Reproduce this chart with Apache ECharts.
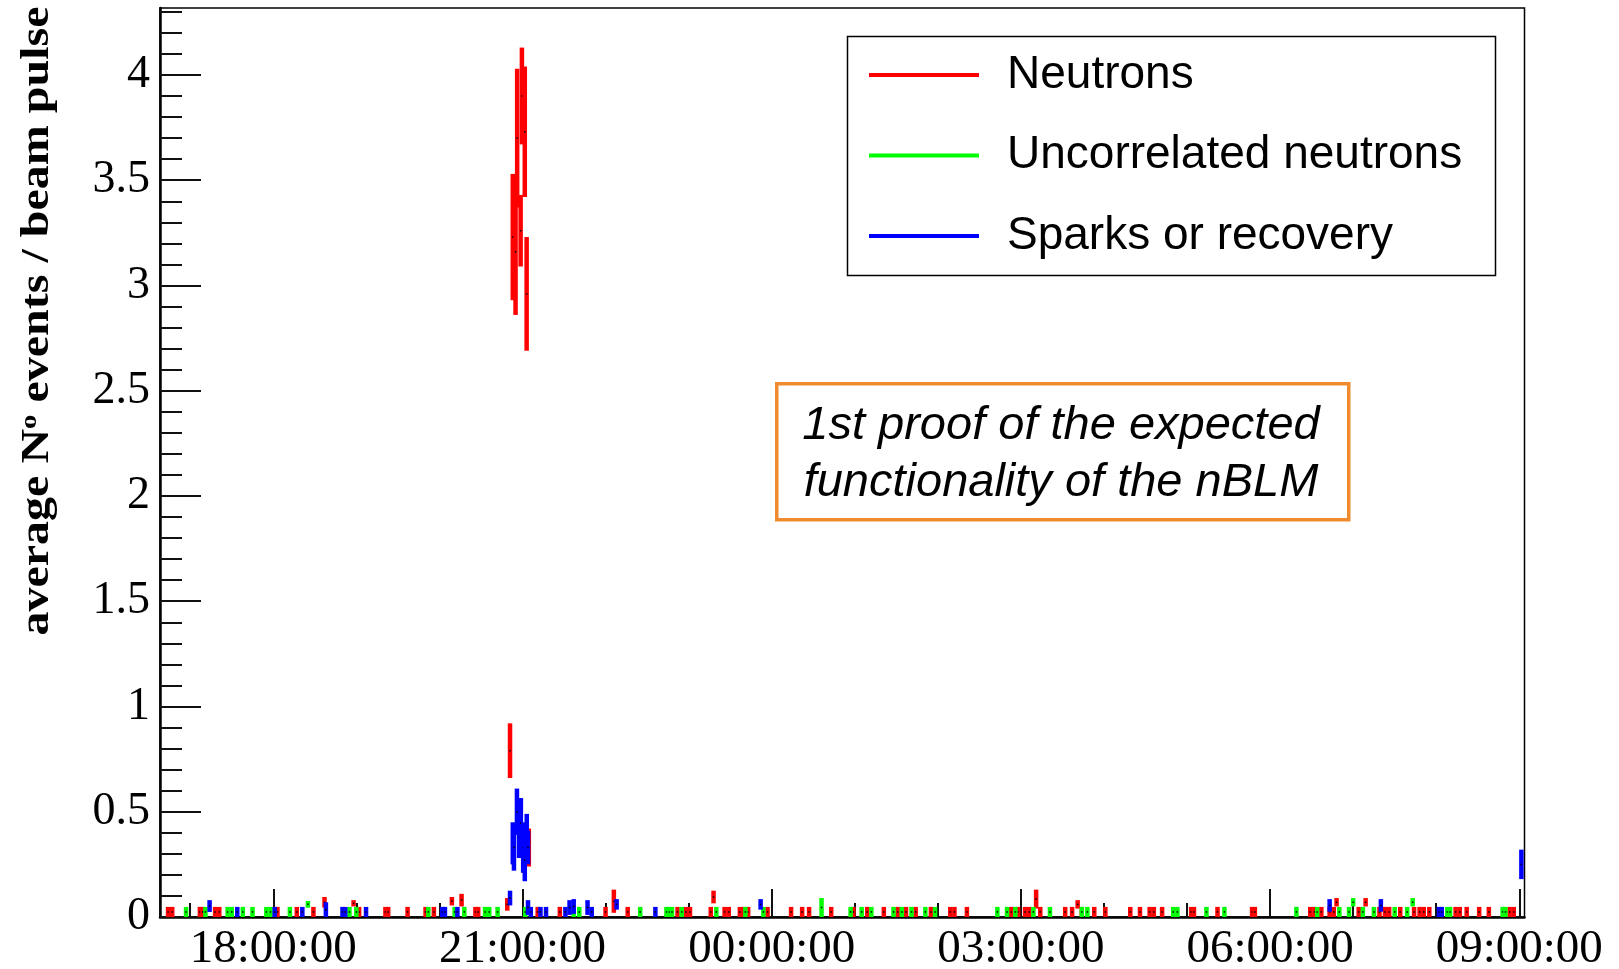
<!DOCTYPE html>
<html><head><meta charset="utf-8">
<script src="https://cdn.jsdelivr.net/npm/echarts@6/dist/echarts.min.js"></script>
<style>html,body{margin:0;padding:0;background:#fff}#c{width:1619px;height:969px}</style>
</head><body><div id="c"></div>
<script>
// ---------------- data ----------------
const X_START = '16:38:11';
const X_END = '09:03:45';
const Y_MAX = 4.318;
const xTickClocks = ['18:00:00', '21:00:00', '00:00:00', '03:00:00', '06:00:00', '09:00:00'];
const yTickValues = [0, 0.5, 1, 1.5, 2, 2.5, 3, 3.5, 4];
const seriesNames = ['Neutrons', 'Uncorrelated neutrons', 'Sparks or recovery'];
const seriesColors = ['#ff0000', '#00ff00', '#0000ff'];

// typical low-level point: value and error
const BASE_V = 0.024, BASE_E = 0.024;

const neutronsBaseline = ['16:44','16:47','17:07','17:09','17:18','17:21','18:03','18:17','18:29','19:02','19:21','19:23','19:37','19:50','19:56','20:26','20:28','21:11','21:27','22:00','22:16','22:52','22:58','23:01','23:16','23:26','23:29','23:37','23:40','23:43','23:57','00:14','00:22','00:27','00:43','00:59','01:09','01:21','01:31','01:37','01:44','01:55','02:09','02:12','02:21','02:53','02:58','03:03','03:06','03:14','03:32','03:37','03:44','03:53','04:01','04:19','04:26','04:33','04:36','04:42','05:03','05:05','05:22','05:47','05:49','06:29','06:32','06:37','06:43','06:46','07:04','07:19','07:23','07:26','07:34','07:44','07:48','07:51','07:55','08:14','08:17','08:22','08:31','08:38','08:53','08:56'];
const neutronsRaised = [
  ['18:37', 0.07, 0.025], ['18:58', 0.065, 0.015], ['20:09', 0.075, 0.02], ['20:16', 0.08, 0.03],
  ['20:49', 0.06, 0.03], ['20:51', 0.79, 0.13],
  ['20:53:00', 3.23, 0.30], ['20:55:00', 3.16, 0.30], ['20:56:10', 3.70, 0.33], ['20:58:40', 3.26, 0.17],
  ['20:59:35', 3.90, 0.23], ['21:01:40', 3.73, 0.31], ['21:03:00', 2.96, 0.27], ['21:04:35', 0.33, 0.09],
  ['22:06', 0.075, 0.055], ['23:18', 0.095, 0.03], ['03:11', 0.085, 0.045], ['03:41', 0.06, 0.02],
  ['06:48', 0.07, 0.02], ['07:09', 0.07, 0.02]
];

const uncorrBaseline = ['16:57','17:11','17:27','17:30','17:38','17:45','17:55','17:58','18:12','18:55','19:00','19:52','20:11','20:18','20:33','20:36','20:42','21:02','21:37','21:41','22:25','22:44','22:46','22:48','22:55','23:20','23:41','23:54','00:57','01:05','01:12','01:28','01:34','01:41','01:51','01:58','02:43','02:50','02:56','03:09','03:21','03:44','03:48','04:50','04:53','05:14','05:27','06:19','06:34','06:50','06:57','07:07','07:15','07:30','07:39','08:08','08:10','08:48','08:50'];
const uncorrRaised = [
  ['18:25', 0.06, 0.016], ['00:36', 0.045, 0.045], ['07:00', 0.07, 0.02], ['07:43', 0.07, 0.02]
];

const sparksBaseline = ['17:34','18:01','18:21','18:50','18:52','19:07','20:02','20:04','20:13','21:06','21:13','21:17','21:31','21:50','22:36','08:02','08:04'];
const sparksRaised = [
  ['17:14', 0.052, 0.028], ['18:38', 0.035, 0.035], ['20:51', 0.09, 0.035],
  ['20:53:00', 0.35, 0.10], ['20:53:50', 0.33, 0.11], ['20:56:00', 0.50, 0.11], ['20:57:30', 0.38, 0.10],
  ['20:58:50', 0.445, 0.12], ['21:00:30', 0.33, 0.12],
  ['21:01:40', 0.27, 0.10], ['21:03:05', 0.40, 0.09], ['21:04:00', 0.33, 0.08],
  ['21:04', 0.045, 0.035], ['21:34', 0.045, 0.035], ['21:37', 0.05, 0.035], ['21:47', 0.045, 0.035],
  ['22:08', 0.06, 0.025], ['23:52', 0.06, 0.025], ['06:43', 0.055, 0.03], ['07:20', 0.055, 0.03],
  ['09:01:30', 0.25, 0.07]
];

// ---------------- helpers ----------------
function toH(clock) {
  const p = clock.split(':').map(Number);
  let d = p[0] + p[1] / 60 + (p[2] || 0) / 3600 - 18;
  if (d < -6) d += 24;
  return d;
}
function build(base, raised) {
  return base.map(t => [toH(t), BASE_V, BASE_E]).concat(raised.map(r => [toH(r[0]), r[1], r[2]]));
}
function fmtClock(v) {
  const h = ((Math.round(v) + 18) % 24 + 24) % 24;
  return (h < 10 ? '0' : '') + h + ':00:00';
}
const xMin = toH(X_START), xMax = toH(X_END);
const xTicks = xTickClocks.map(toH);
const hourTicks = [];
for (let h = Math.ceil(xMin); h <= Math.floor(xMax); h++) hourTicks.push(h);
const yMinorTicks = [];
for (let i = 0; i * 0.1 <= Y_MAX + 1e-9; i++) yMinorTicks.push(+(i * 0.1).toFixed(1));

const BAR_PX = 4.5;
function renderItem(params, api) {
  const t = api.value(0), v = api.value(1), e = api.value(2);
  const top = api.coord([t, v + e]);
  const bot = api.coord([t, Math.max(0, v - e)]);
  const c = api.coord([t, v]);
  const col = api.visual('color');
  return {
    type: 'group',
    children: [
      { type: 'rect', shape: { x: top[0] - BAR_PX / 2, y: top[1], width: BAR_PX, height: Math.max(1, bot[1] - top[1]) }, style: { fill: col } },
      { type: 'rect', shape: { x: c[0] - 0.75, y: c[1] - 0.75, width: 1.5, height: 1.5 }, style: { fill: '#000' } }
    ]
  };
}

const datasets = [build(neutronsBaseline, neutronsRaised), build(uncorrBaseline, uncorrRaised), build(sparksBaseline, sparksRaised)];

const chart = echarts.init(document.getElementById('c'), null, { renderer: 'canvas' });
chart.setOption({
  animation: false,
  backgroundColor: '#fff',
  grid: {
    left: 160, right: 94.5, top: 8, bottom: 52,
    containLabel: false, outerBoundsMode: 'none',
    show: true, borderColor: '#000', borderWidth: 1.5, backgroundColor: 'transparent'
  },
  xAxis: [{
    type: 'value', min: xMin, max: xMax, position: 'bottom',
    axisLine: { show: true, onZero: false, lineStyle: { color: '#000', width: 2.5 } },
    axisTick: { show: true, inside: true, length: 28, customValues: xTicks, lineStyle: { color: '#111', width: 2 } },
    axisLabel: { show: true, customValues: xTicks, formatter: fmtClock, margin: 9,
      fontFamily: 'Liberation Serif', fontSize: 47, color: '#000' },
    splitLine: { show: false }
  }, {
    type: 'value', min: xMin, max: xMax, position: 'bottom', gridIndex: 0,
    axisLine: { show: false, onZero: false },
    axisTick: { show: true, inside: true, length: 14, customValues: hourTicks, lineStyle: { color: '#111', width: 2 } },
    axisLabel: { show: false },
    splitLine: { show: false }
  }],
  yAxis: [{
    type: 'value', min: 0, max: Y_MAX, position: 'left',
    axisLine: { show: true, onZero: false, lineStyle: { color: '#000', width: 2.5 } },
    axisTick: { show: true, inside: true, length: 41, customValues: yTickValues, lineStyle: { color: '#111', width: 2 } },
    axisLabel: { show: true, customValues: yTickValues, margin: 10, formatter: v => String(v),
      fontFamily: 'Liberation Serif', fontSize: 46, color: '#000' },
    splitLine: { show: false }
  }, {
    type: 'value', min: 0, max: Y_MAX, position: 'left', gridIndex: 0, offset: 0,
    axisLine: { show: false, onZero: false },
    axisTick: { show: true, inside: true, length: 22, customValues: yMinorTicks, lineStyle: { color: '#111', width: 2 } },
    axisLabel: { show: false },
    splitLine: { show: false }
  }],
  legend: {
    orient: 'vertical', left: 869, top: 52, padding: 0,
    itemWidth: 110, itemHeight: 4, itemGap: 34.5, icon: 'rect', selectedMode: false,
    textStyle: { fontFamily: 'Liberation Sans', fontSize: 46, color: '#000', padding: [0, 0, 0, 23] },
    data: seriesNames
  },
  series: seriesNames.map((name, i) => ({
    name: name, type: 'custom', xAxisIndex: 0, yAxisIndex: 0, clip: true,
    itemStyle: { color: seriesColors[i] },
    encode: { x: 0, y: 1 },
    renderItem: renderItem,
    data: datasets[i]
  })),
  graphic: [
    { type: 'rect', left: 845, top: 34, shape: { width: 648, height: 239 }, z: -1,
      style: { fill: 'none', stroke: '#000', lineWidth: 1.5 } },
    { type: 'rect', left: 775, top: 382, shape: { width: 572, height: 136 },
      style: { fill: '#fff', stroke: '#ef8a2e', lineWidth: 3.5 } },
    { type: 'text', x: 1061, y: 426, style: { text: '1st proof of the expected', align: 'center', verticalAlign: 'middle',
      fontFamily: 'Liberation Sans', fontStyle: 'italic', fontSize: 47, fill: '#000' } },
    { type: 'text', x: 1061, y: 483, style: { text: 'functionality of the nBLM', align: 'center', verticalAlign: 'middle',
      fontFamily: 'Liberation Sans', fontStyle: 'italic', fontSize: 47, fill: '#000' } },
    { type: 'text', x: 38, y: 321, rotation: Math.PI / 2, scaleX: 1.2, scaleY: 1,
      style: { text: '{a|average N}{s|o}{a| events / beam pulse}', align: 'center', verticalAlign: 'middle',
        rich: {
          a: { fontFamily: 'Liberation Serif', fontWeight: 'bold', fontSize: 40, fill: '#000', lineHeight: 40 },
          s: { fontFamily: 'Liberation Serif', fontWeight: 'bold', fontSize: 24, fill: '#000', verticalAlign: 'top', lineHeight: 40 }
        } } }
  ]
});
</script>
</body></html>
